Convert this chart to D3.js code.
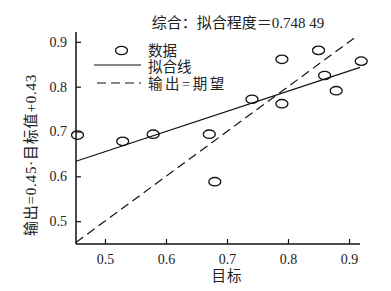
<!DOCTYPE html>
<html>
<head>
<meta charset="utf-8">
<script src="https://cdn.jsdelivr.net/npm/d3@7"></script>
<style>
  body { margin: 0; background: #fff; }
  svg text { font-family: "Liberation Serif", "Noto Sans CJK SC", serif; fill: #222; }
</style>
</head>
<body>
<div id="chart"></div>
<script>
// target values (x) and network outputs (y)
const targets = [0.455, 0.529, 0.579, 0.671, 0.680, 0.741, 0.790, 0.790, 0.850, 0.860, 0.879, 0.920];
const outputs = [0.692, 0.678, 0.694, 0.694, 0.588, 0.772, 0.861, 0.762, 0.881, 0.825, 0.791, 0.857];
const xTicks = [0.5, 0.6, 0.7, 0.8, 0.9];
const yTicks = [0.5, 0.6, 0.7, 0.8, 0.9];
const fitSlope = 0.45;
const fitIntercept = 0.43;
const titleText = '综合：拟合程度＝0.748 49';
const legendLabels = ['数据', '拟合线', '输出=期望'];

const width = 391, height = 291;
const margin = { top: 32, right: 31, bottom: 47, left: 76 };

const svg = d3.select('#chart')
  .append('svg')
  .attr('width', width)
  .attr('height', height);

const x = d3.scaleLinear()
  .domain([0.4525, 0.918])
  .range([margin.left, width - margin.right]);

const y = d3.scaleLinear()
  .domain([0.449, 0.922])
  .range([height - margin.bottom, margin.top]);

// axes, ticks pointing inward
const xAxis = d3.axisBottom(x).tickValues(xTicks).tickSize(-5).tickPadding(10).tickFormat(d3.format('.1f'));
const yAxis = d3.axisLeft(y).tickValues(yTicks).tickSize(-5).tickPadding(9).tickFormat(d3.format('.1f'));

const gx = svg.append('g')
  .attr('transform', `translate(0,${height - margin.bottom})`)
  .call(xAxis);
const gy = svg.append('g')
  .attr('transform', `translate(${margin.left},0)`)
  .call(yAxis);

[gx, gy].forEach(g => {
  g.select('.domain').attr('stroke', '#111').attr('stroke-width', 1.5)
    .attr('d', g === gx ? `M${x.range()[0]},0H${x.range()[1]}` : `M0,${y.range()[0]}V${y.range()[1]}`);
  g.selectAll('.tick line').attr('stroke', '#111').attr('stroke-width', 1.2);
  g.selectAll('.tick text').attr('font-size', 14).attr('fill', '#222');
});

const plot = svg.append('g');

// expected line: output = target
const x0 = x.domain()[0], x1 = 0.918;
plot.append('line')
  .attr('x1', x(x0)).attr('y1', y(x0))
  .attr('x2', x(0.915)).attr('y2', y(0.915))
  .attr('stroke', '#111').attr('stroke-width', 1.2)
  .attr('stroke-dasharray', '9,5');

// fitted line
plot.append('line')
  .attr('x1', x(x0)).attr('y1', y(fitSlope * x0 + fitIntercept))
  .attr('x2', x(x1)).attr('y2', y(fitSlope * x1 + fitIntercept))
  .attr('stroke', '#111').attr('stroke-width', 1.2);

// data points
plot.selectAll('.pt')
  .data(targets.map((t, i) => [t, outputs[i]]))
  .join('ellipse')
    .attr('class', 'pt')
    .attr('cx', d => x(d[0]))
    .attr('cy', d => y(d[1]))
    .attr('rx', 6).attr('ry', 4.2)
    .attr('fill', 'none')
    .attr('stroke', '#111')
    .attr('stroke-width', 1.3);

// title
svg.append('text')
  .attr('x', 238).attr('y', 28)
  .attr('text-anchor', 'middle')
  .attr('font-size', 15)
  .text(titleText);

// axis labels
svg.append('text')
  .attr('x', 227).attr('y', 281)
  .attr('text-anchor', 'middle')
  .attr('font-size', 14.5)
  .attr('letter-spacing', 1)
  .text('目标');

svg.append('text')
  .attr('transform', 'translate(36,155) rotate(-90)')
  .attr('text-anchor', 'middle')
  .attr('font-size', 15)
  .attr('letter-spacing', 0.8)
  .text('输出=0.45·目标值+0.43');

// legend
const lg = svg.append('g');
lg.append('ellipse')
  .attr('cx', 121.5).attr('cy', 50.5).attr('rx', 6).attr('ry', 4.2)
  .attr('fill', 'none').attr('stroke', '#111').attr('stroke-width', 1.3);
lg.append('line')
  .attr('x1', 94).attr('x2', 141).attr('y1', 65).attr('y2', 65)
  .attr('stroke', '#111').attr('stroke-width', 1.2);
lg.append('line')
  .attr('x1', 97).attr('x2', 141).attr('y1', 83).attr('y2', 83)
  .attr('stroke', '#111').attr('stroke-width', 1.2)
  .attr('stroke-dasharray', '9,5');
lg.selectAll('.lt')
  .data(legendLabels)
  .join('text')
    .attr('class', 'lt')
    .attr('x', 148)
    .attr('y', (d, i) => 55.5 + i * 16.5)
    .attr('font-size', 14.5)
    .attr('letter-spacing', (d, i) => i === 2 ? 2.5 : 0)
    .text(d => d);
</script>
</body>
</html>
